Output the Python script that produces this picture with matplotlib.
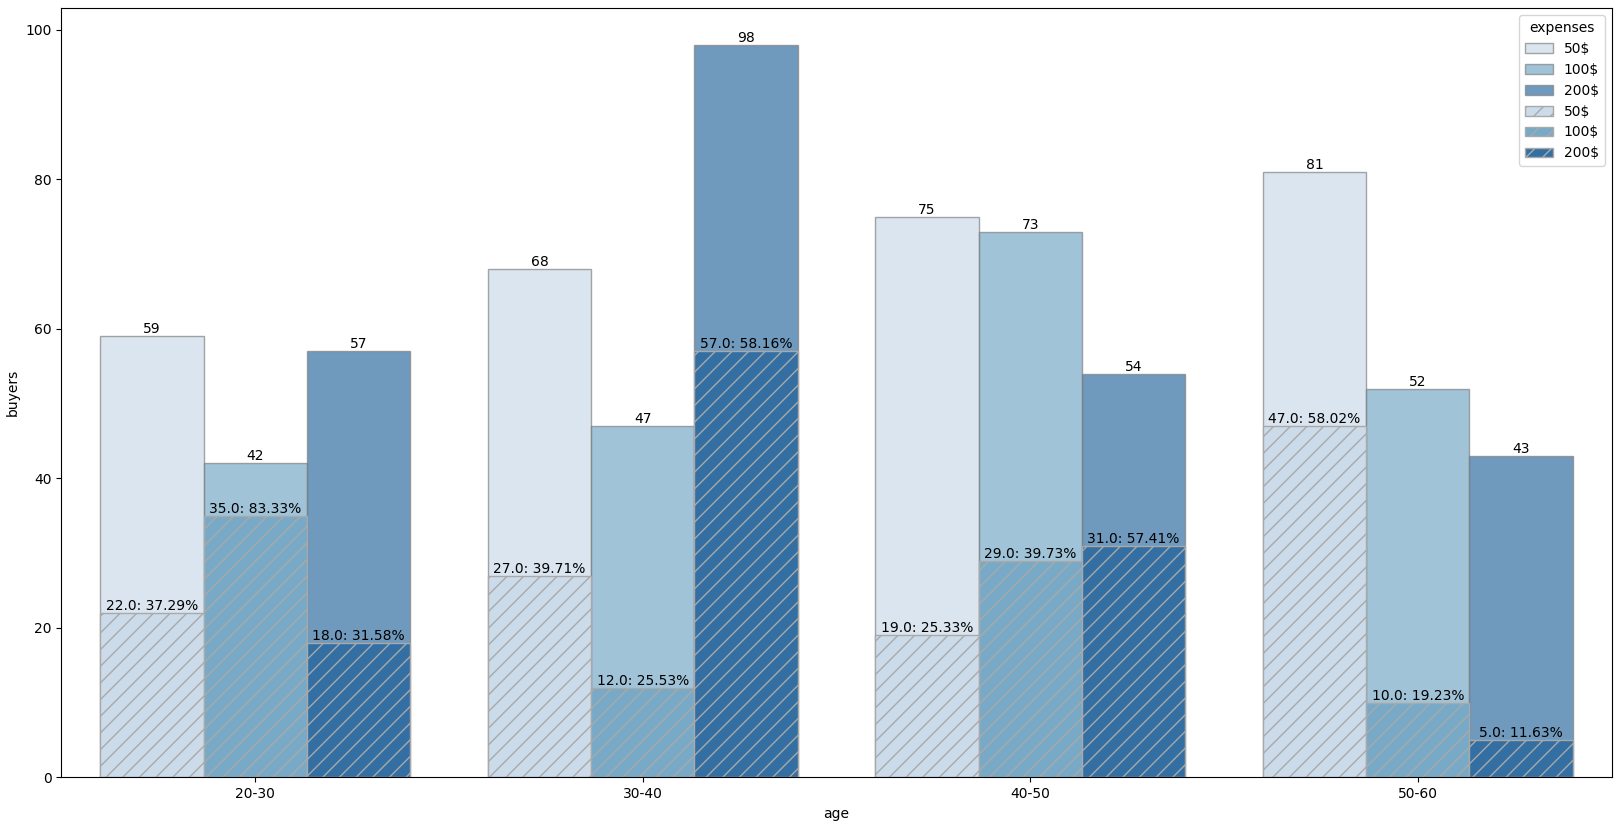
import numpy as np
import matplotlib
matplotlib.use("Agg")
import matplotlib.pyplot as plt
import seaborn as sns

ages = ["20-30", "30-40", "40-50", "50-60"]
expenses = ["50$", "100$", "200$"]
# total buyers per age group and expense level
total_50 = [59, 68, 75, 81]
total_100 = [42, 47, 73, 52]
total_200 = [57, 98, 54, 43]
# subset (hatched) buyers
part_50 = [22, 27, 19, 47]
part_100 = [35, 12, 29, 10]
part_200 = [18, 57, 31, 5]

totals = [total_50, total_100, total_200]
parts = [part_50, part_100, part_200]

pal = [sns.desaturate(c, 0.75) for c in sns.color_palette("Blues", 3)]

fig, ax = plt.subplots(figsize=(16.18, 8.27), dpi=100)
x = np.arange(len(ages))
w = 0.8 / 3

top_handles = []
hatch_handles = []
for i, name in enumerate(expenses):
    pos = x - 0.4 + w / 2 + i * w
    b1 = ax.bar(pos, totals[i], width=w, color=pal[i], alpha=0.7,
                edgecolor="grey", linewidth=1, label=name)
    ax.bar_label(b1, labels=[str(v) for v in totals[i]], fontsize=10)
    top_handles.append(b1)
for i, name in enumerate(expenses):
    pos = x - 0.4 + w / 2 + i * w
    b2 = ax.bar(pos, parts[i], width=w, color=pal[i], hatch="//",
                edgecolor="darkgrey", linewidth=1, label=name)
    labs = ["%.1f: %.2f%%" % (p, 100.0 * p / t) for p, t in zip(parts[i], totals[i])]
    ax.bar_label(b2, labels=labs, fontsize=10)
    hatch_handles.append(b2)

ax.set_xticks(x)
ax.set_xticklabels(ages)
ax.set_xlim(-0.5, 3.5)
ax.set_xlabel("age")
ax.set_ylabel("buyers")
ax.legend(handles=top_handles + hatch_handles, title="expenses", loc="upper right")

plt.subplots_adjust(left=0.038, right=0.996, top=0.990, bottom=0.060)
plt.savefig("out.png")
